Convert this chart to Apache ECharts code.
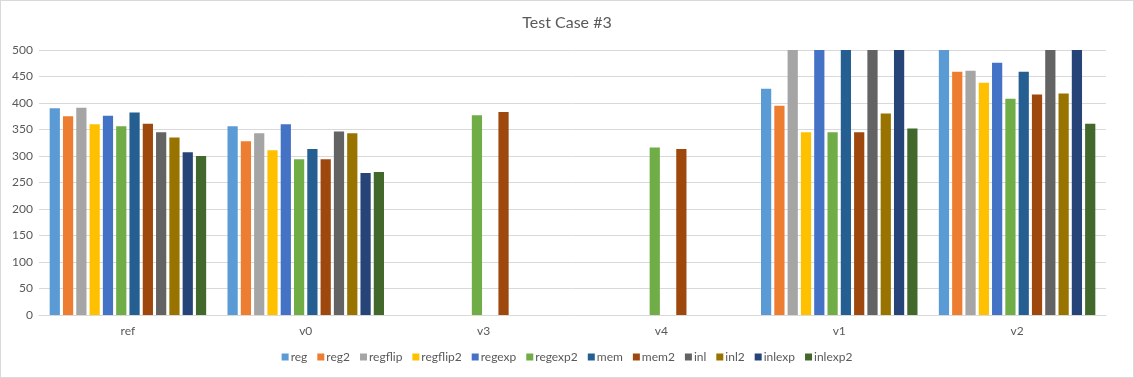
<!DOCTYPE html>
<html>
<head>
<meta charset="utf-8">
<script src="https://cdn.jsdelivr.net/npm/echarts@6/dist/echarts.min.js"></script>
<style>
  html, body { margin: 0; padding: 0; background: #fff; }
  #chart { width: 1134px; height: 378px; box-sizing: border-box; border: 1px solid #d9d9d9; }
</style>
</head>
<body>
<div id="chart"></div>
<script>
// 分类 & 数据
const categories = ['ref', 'v0', 'v3', 'v4', 'v1', 'v2'];
const seriesNames = ['reg', 'reg2', 'regflip', 'regflip2', 'regexp', 'regexp2', 'mem', 'mem2', 'inl', 'inl2', 'inlexp', 'inlexp2'];
const colors = ['#5b9bd5', '#ed7d31', '#a5a5a5', '#ffc000', '#4472c4', '#70ad47', '#255e91', '#9e480e', '#636363', '#997300', '#264478', '#43682b'];

// one array per series, values in category order (ref, v0, v3, v4, v1, v2)
const reg      = [390, 356, null, null, 427, 500];
const reg2     = [375, 328, null, null, 395, 459];
const regflip  = [391, 343, null, null, 500, 461];
const regflip2 = [360, 311, null, null, 345, 438];
const regexp   = [376, 360, null, null, 500, 476];
const regexp2  = [356, 294, 377, 316, 345, 408];
const mem      = [382, 313, null, null, 500, 459];
const mem2     = [361, 294, 383, 313, 345, 416];
const inl      = [345, 346, null, null, 500, 500];
const inl2     = [335, 343, null, null, 380, 418];
const inlexp   = [307, 268, null, null, 500, 500];
const inlexp2  = [300, 270, null, null, 352, 361];

const seriesData = [reg, reg2, regflip, regflip2, regexp, regexp2, mem, mem2, inl, inl2, inlexp, inlexp2];

const font = 'Lato, "Open Sans", sans-serif';

const series = seriesNames.map((name, i) => ({
  name,
  type: 'bar',
  barGap: '30%',
  barCategoryGap: '12%',
  clip: true,
  itemStyle: { color: colors[i] },
  data: seriesData[i],
}));

const myChart = echarts.init(document.getElementById('chart'));

const option = {
  animation: false,
  color: colors,
  title: {
    text: 'Test Case #3',
    left: 'center',
    top: 9,
    textStyle: { fontFamily: font, fontSize: 16, fontWeight: 'normal', color: '#595959' },
  },
  legend: {
    bottom: 9,
    left: 'center',
    itemWidth: 7,
    itemHeight: 7,
    itemGap: 10,
    icon: 'rect',
    textStyle: { fontFamily: font, fontSize: 12, color: '#595959', padding: [0, 0, 0, -3] },
    data: seriesNames,
  },
  grid: {
    left: 38,
    right: 27,
    top: 49,
    bottom: 62,
  },
  xAxis: {
    type: 'category',
    data: categories,
    axisLine: { show: true, lineStyle: { color: '#d9d9d9' } },
    axisTick: { show: false },
    axisLabel: { fontFamily: font, fontSize: 12, color: '#595959', margin: 10 },
  },
  yAxis: {
    type: 'value',
    min: 0,
    max: 500,
    interval: 50,
    axisLine: { show: false },
    axisTick: { show: false },
    axisLabel: { fontFamily: font, fontSize: 12, color: '#595959', margin: 6 },
    splitLine: { show: true, lineStyle: { color: '#d9d9d9' } },
  },
  series,
};

myChart.setOption(option);
</script>
</body>
</html>
